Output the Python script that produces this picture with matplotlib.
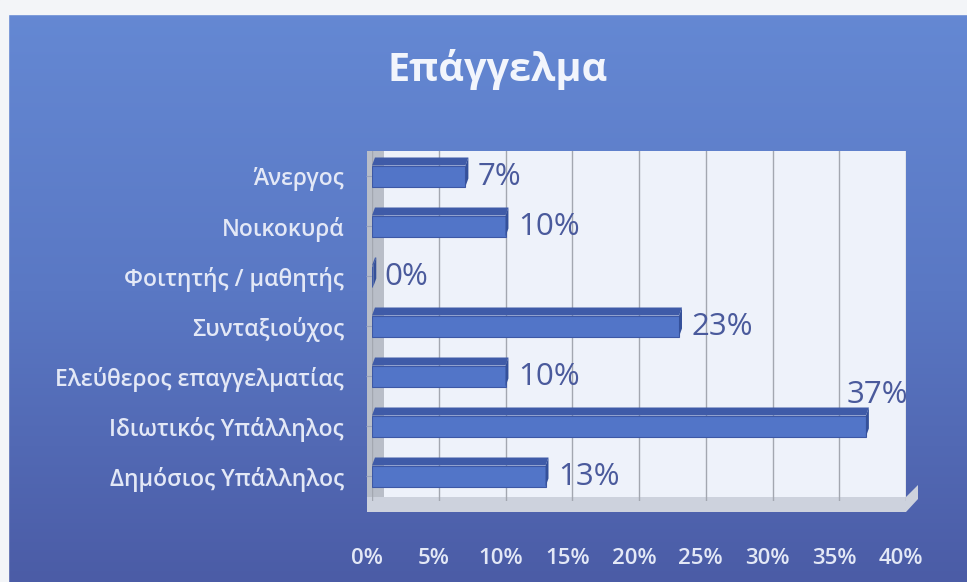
import numpy as np
import matplotlib
matplotlib.use("Agg")
import matplotlib.pyplot as plt
from matplotlib.patches import Rectangle, Polygon
from matplotlib.colors import LinearSegmentedColormap
from matplotlib.transforms import ScaledTranslation

plt.rcParams['font.family'] = ['Open Sans', 'Noto Sans', 'DejaVu Sans']

# ---- data ----
title = "Επάγγελμα"
categories = ["Δημόσιος Υπάλληλος", "Ιδιωτικός Υπάλληλος", "Ελεύθερος επαγγελματίας",
              "Συνταξιούχος", "Φοιτητής / μαθητής", "Νοικοκυρά", "Άνεργος"]
values = [0.13, 0.37, 0.10, 0.23, 0.00, 0.10, 0.07]
value_labels = ["13%", "37%", "10%", "23%", "0%", "10%", "7%"]
xticks = [0, 0.05, 0.10, 0.15, 0.20, 0.25, 0.30, 0.35, 0.40]
xtick_labels = ["0%", "5%", "10%", "15%", "20%", "25%", "30%", "35%", "40%"]

W, H = 967, 582
fig = plt.figure(figsize=(W / 100, H / 100), dpi=100)

def fx(px):
    return px / W

def fy(py):
    return 1 - py / H

# background gradient
bg = fig.add_axes([0, 0, 1, 1], zorder=0)
bg.set_axis_off()
cmap = LinearSegmentedColormap.from_list("bg", ["#6589d4", "#5a78c4", "#4b5ca6"])
grad = np.linspace(0, 1, 256).reshape(-1, 1)
bg.imshow(grad, aspect='auto', cmap=cmap, extent=[0, 1, 0, 1], origin='upper')
bg.set_xlim(0, 1)
bg.set_ylim(0, 1)
# white border top/left
bg.add_patch(Rectangle((0, fy(14)), 1, 1 - fy(14), color="#f3f5f8", zorder=2))
bg.add_patch(Rectangle((0, 0), fx(8), 1, color="#f3f5f8", zorder=2))
# plot area wall
ax_left, ax_right, ax_top, ax_bottom = 372, 906, 151, 501
bg.add_patch(Rectangle((fx(ax_left), fy(497)), fx(ax_right - ax_left), fy(ax_top) - fy(497),
                       facecolor="#eef2fa", edgecolor="none", zorder=3))
bg.add_patch(Rectangle((fx(367), fy(500)), fx(17), fy(ax_top) - fy(500),
                       facecolor="#b9bec8", edgecolor="none", zorder=3))
# floor of 3D plot
floor = Polygon([(fx(367), fy(497)), (fx(906), fy(497)), (fx(918), fy(485)),
                 (fx(918), fy(499)), (fx(906), fy(512)), (fx(367), fy(512))],
                closed=True, facecolor="#cdd2dd", edgecolor="none", zorder=3)
bg.add_patch(floor)

# main axes
ax = fig.add_axes([fx(ax_left), fy(ax_bottom), fx(ax_right - ax_left), fy(ax_top) - fy(ax_bottom)], zorder=5)
ax.set_facecolor("none")
ax.set_xlim(0, 0.40)
ax.set_ylim(-0.5, len(categories) - 0.5)

ax.set_xticks(xticks)
ax.set_xticklabels(xtick_labels)
ypos = np.arange(len(categories))
ax.set_yticks(ypos)
ax.set_yticklabels(categories)
ax.grid(axis='x', color="#a3a7b0", linewidth=1.0)
ax.set_axisbelow(True)
for s in ["top", "right", "bottom", "left"]:
    ax.spines[s].set_visible(False)
ax.tick_params(axis='x', length=0, pad=34, labelsize=16, labelcolor="#e3e8f6")
ax.tick_params(axis='y', length=4, color="#9aa3bb", pad=16, labelsize=16.5, labelcolor="#e3e8f6")
shift = ScaledTranslation(-5 / 100, 0, fig.dpi_scale_trans)
for lab in ax.get_xticklabels():
    lab.set_transform(lab.get_transform() + shift)
    lab.set_fontweight("semibold")
for lab in ax.get_yticklabels():
    lab.set_fontweight("semibold")

bar_h = 0.42
depth_x = 0.0022
depth_y = 0.16
front = "#5275c8"
topc = "#3f5ba8"
sidec = "#34509a"
bars = ax.barh(ypos, values, height=bar_h, color=front, edgecolor="#3d58a5", linewidth=0.8, zorder=3)
for rect, v in zip(bars, values):
    x0 = rect.get_x()
    y1 = rect.get_y() + rect.get_height()
    y0 = rect.get_y()
    w = max(rect.get_width(), 0.001)
    ax.add_patch(Polygon([(x0, y1), (x0 + w, y1), (x0 + w + depth_x, y1 + depth_y), (x0 + depth_x, y1 + depth_y)],
                         closed=True, facecolor=topc, edgecolor="none", zorder=3))
    ax.add_patch(Polygon([(x0 + w, y0), (x0 + w + depth_x, y0 + depth_y), (x0 + w + depth_x, y1 + depth_y), (x0 + w, y1)],
                         closed=True, facecolor=sidec, edgecolor="none", zorder=3))

for y, v, lab in zip(ypos, values, value_labels):
    if v > 0.33:
        ax.annotate(lab, (v, y), xytext=(8, 22), textcoords="offset points", ha="center", va="center",
                    fontsize=22.5, color="#4a5a9c", zorder=6, annotation_clip=False)
    else:
        ax.annotate(lab, (v, y), xytext=(9, -1), textcoords="offset points", ha="left", va="center",
                    fontsize=22.5, color="#4a5a9c", zorder=6)

fig.text(fx(498), fy(70), title, ha="center", va="center", fontsize=28.5, fontweight="bold", color="#f2f5fc")

fig.savefig("out.png", dpi=100)
